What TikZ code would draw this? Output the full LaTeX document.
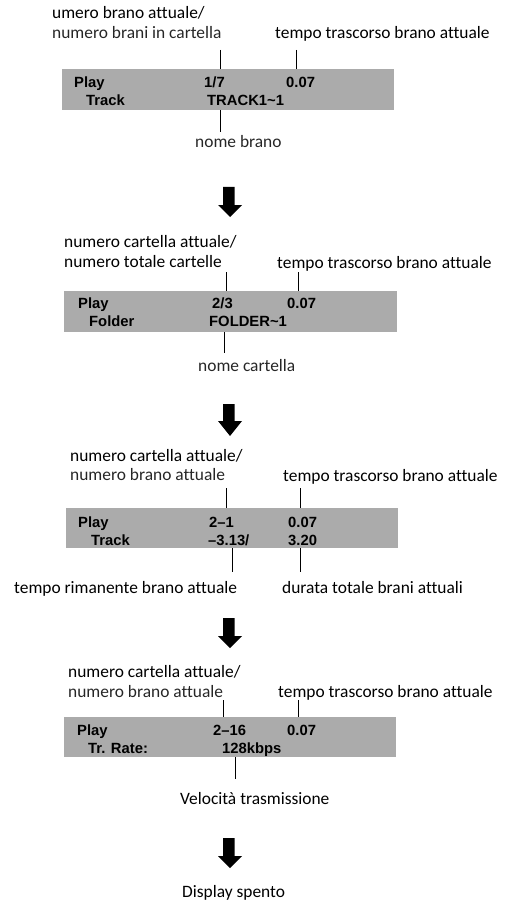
\documentclass[tikz,border=0pt]{standalone}
\usepackage{fontspec}
\setmainfont[Ligatures=NoCommon]{Carlito}
\newfontfamily\dispfont{Liberation Sans}
\definecolor{boxgray}{RGB}{171,171,171}
\tikzset{
  lbl/.style={anchor=base west, inner sep=0pt, font=\fontsize{17.4}{19}\selectfont},
  lbllight/.style={lbl, text=black!85},
  disp/.style={anchor=base west, inner sep=0pt, font=\dispfont\bfseries\fontsize{14.8}{16}\selectfont},
  lcd/.style={fill=boxgray, draw=none, inner sep=0pt, anchor=north west},
  leader/.style={line width=1pt},
  blockarrow/.style={fill=black}
}
\newcommand\downblock[3]{% top, headstart, tip
  \fill[blockarrow] (223,#1) -- (234.5,#1) -- (234.5,#2) -- (242,#2) -- (230,#3) -- (218,#2) -- (223,#2) -- cycle;}
\begin{document}
\begin{tikzpicture}[x=1pt,y=-1pt]
\useasboundingbox (0,0) rectangle (504,904);
% ---------- stage 1
\node[lbl] (l1a) at (52,19) {umero brano attuale/};
\node[lbllight] (l1b) at (52,39) {numero brani in cartella};
\node[lbl] (r1) at (275,39) {tempo trascorso brano attuale};
\node[lcd, minimum width=332pt, minimum height=41pt] (box1) at (62,69) {};
\node[disp] (p1) at (74,88) {Play};
\node[disp] (t1) at (86,106) {Track};
\node[disp] (n1) at (204,88) {1/7};
\node[disp] (e1) at (286,88) {0.07};
\node[disp] (m1) at (207,106) {TRACK1\char"7E 1};
\coordinate (a1t) at (220,50); \coordinate (a1b) at (220,69);
\coordinate (b1t) at (296,50); \coordinate (b1b) at (296,69);
\coordinate (c1t) at (220,110); \coordinate (c1b) at (220,132);
\draw[leader] (a1t) -- (a1b);
\draw[leader] (b1t) -- (b1b);
\draw[leader] (c1t) -- (c1b);
\node[lbllight] (nb1) at (195,148) {nome brano};
\downblock{187}{205}{217}
% ---------- stage 2
\node[lbl] (l2a) at (64,247) {numero cartella attuale/};
\node[lbl] (l2b) at (64,267) {numero totale cartelle};
\node[lbl] (r2) at (277,268) {tempo trascorso brano attuale};
\node[lcd, minimum width=333pt, minimum height=41pt] (box2) at (64,291) {};
\node[disp] (p2) at (78,308) {Play};
\node[disp] (t2) at (89,326) {Folder};
\node[disp] (n2) at (212,308) {2/3};
\node[disp] (e2) at (287,308) {0.07};
\node[disp] (m2) at (209,326) {FOLDER\char"7E 1};
\coordinate (a2t) at (226,272); \coordinate (a2b) at (226,291);
\coordinate (b2t) at (298,272); \coordinate (b2b) at (298,291);
\coordinate (c2t) at (224,332); \coordinate (c2b) at (224,353);
\draw[leader] (a2t) -- (a2b);
\draw[leader] (b2t) -- (b2b);
\draw[leader] (c2t) -- (c2b);
\node[lbllight] (nb2) at (198,371) {nome cartella};
\downblock{404}{421}{436}
% ---------- stage 3
\node[lbl] (l3a) at (70,461) {numero cartella attuale/};
\node[lbllight] (l3b) at (70,480) {numero brano attuale};
\node[lbl] (r3) at (283,481) {tempo trascorso brano attuale};
\node[lcd, minimum width=332pt, minimum height=40pt] (box3) at (66,508) {};
\node[disp] (p3) at (78,527) {Play};
\node[disp] (t3) at (91,545) {Track};
\node[disp] (n3) at (209,527) {2–1};
\node[disp] (e3) at (288,527) {0.07};
\node[disp] (m3) at (208,545) {–3.13/};
\node[disp] (d3) at (288,545) {3.20};
\coordinate (a3t) at (226,488); \coordinate (a3b) at (226,508);
\coordinate (b3t) at (300,488); \coordinate (b3b) at (300,508);
\coordinate (c3t) at (232,548); \coordinate (c3b) at (232,572);
\coordinate (f3t) at (300,548); \coordinate (f3b) at (300,572);
\draw[leader] (a3t) -- (a3b);
\draw[leader] (b3t) -- (b3b);
\draw[leader] (c3t) -- (c3b);
\draw[leader] (f3t) -- (f3b);
\node[lbl] (tr3) at (14,593) {tempo rimanente brano attuale};
\node[lbl] (dt3) at (282,593) {durata totale brani attuali};
\downblock{618}{636}{648}
% ---------- stage 4
\node[lbl] (l4a) at (68,677) {numero cartella attuale/};
\node[lbllight] (l4b) at (68,697) {numero brano attuale};
\node[lbl] (r4) at (278,697) {tempo trascorso brano attuale};
\node[lcd, minimum width=332pt, minimum height=40pt] (box4) at (64,717) {};
\node[disp] (p4) at (77,735) {Play};
\node[disp] (t4) at (88,753) {Tr. Rate:};
\node[disp] (n4) at (213,735) {2–16};
\node[disp] (e4) at (287,735) {0.07};
\node[disp] (m4) at (222,753) {128kbps};
\coordinate (a4t) at (223,700); \coordinate (a4b) at (223,717);
\coordinate (b4t) at (298,700); \coordinate (b4b) at (298,717);
\coordinate (c4t) at (235,757); \coordinate (c4b) at (235,779);
\draw[leader] (a4t) -- (a4b);
\draw[leader] (b4t) -- (b4b);
\draw[leader] (c4t) -- (c4b);
\node[lbl] (vt4) at (180,804) {Velocità trasmissione};
\downblock{838}{856}{868}
\node[lbl] (ds) at (182,897) {Display spento};
\end{tikzpicture}
\end{document}
